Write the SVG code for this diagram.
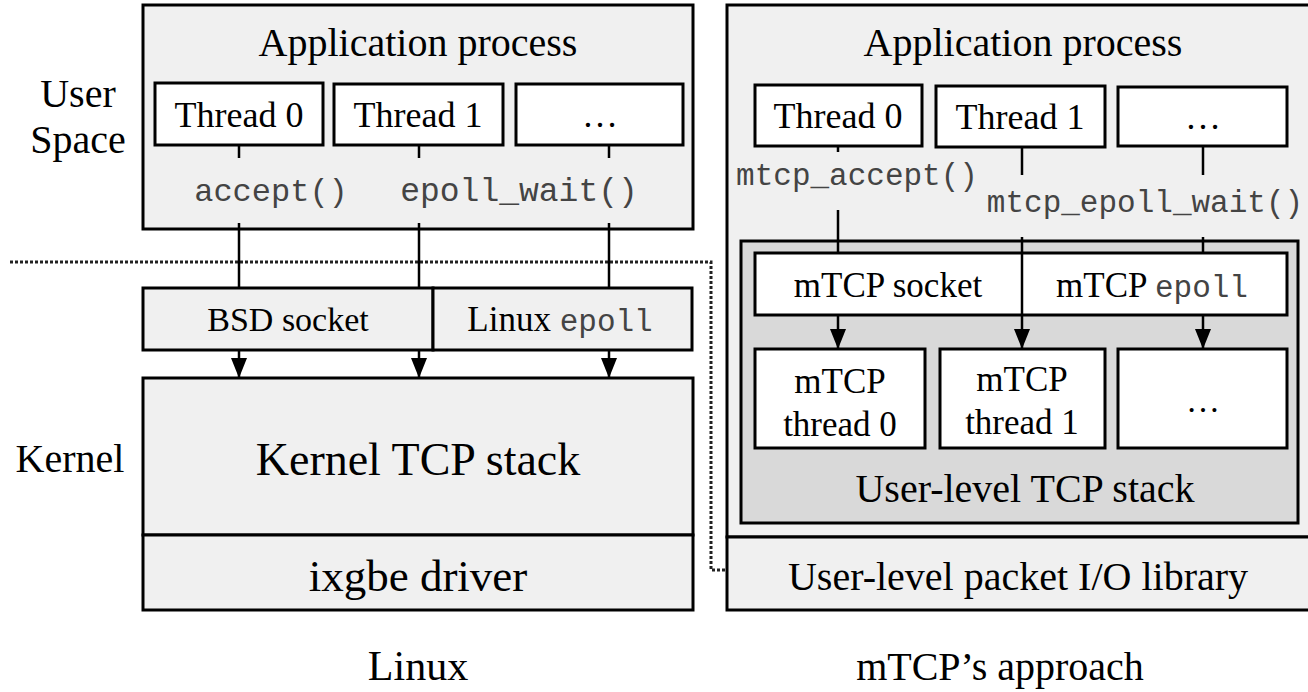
<svg xmlns="http://www.w3.org/2000/svg" width="1308" height="692" viewBox="0 0 1308 692">
<defs>
<marker id="ah" viewBox="0 0 20 16" refX="20" refY="8" markerWidth="20" markerHeight="16" markerUnits="userSpaceOnUse" orient="auto">
<path d="M0,0 L20,8 L0,16 Z" fill="#000"/>
</marker>
</defs>
<style>
.box{fill:#f0f0f0;stroke:#000;stroke-width:3}
.wbox{fill:#fff;stroke:#000;stroke-width:3}
.gbox{fill:#d9d9d9;stroke:#000;stroke-width:3}
.t{font-family:"Liberation Serif","Times New Roman",serif;fill:#000;text-anchor:middle}
.c{font-family:"Liberation Mono","Courier New",monospace;fill:#444;text-anchor:middle}
.ln{stroke:#000;stroke-width:2.5;fill:none}
.arr{stroke:#000;stroke-width:2.5;fill:none;marker-end:url(#ah)}
.dot{stroke:#222;stroke-width:3;fill:none;stroke-dasharray:3 2}
</style>
<rect width="1308" height="692" fill="#fff"/>

<g id="labels">
<text class="t" x="78" y="107" font-size="40">User</text>
<text class="t" x="78" y="153" font-size="40">Space</text>
<text class="t" x="70" y="472" font-size="40">Kernel</text>
<text class="t" x="418" y="680" font-size="42">Linux</text>
<text class="t" x="1000" y="680" font-size="40">mTCP’s approach</text>
</g>

<g id="boundary">
<path class="dot" d="M10,262 H711 V570 H727"/>
</g>

<!-- Linux side -->
<g id="linux-app">
<rect class="box" x="143" y="5" width="550" height="224"/>
<text class="t" x="418" y="56" font-size="40">Application process</text>
</g>
<g id="linux-thread0">
<rect class="wbox" x="155" y="83" width="168" height="62"/>
<text class="t" x="239" y="127" font-size="36">Thread 0</text>
</g>
<g id="linux-thread1">
<rect class="wbox" x="334" y="84" width="169" height="61"/>
<text class="t" x="418" y="127" font-size="36">Thread 1</text>
</g>
<g id="linux-threadn">
<rect class="wbox" x="516" y="84" width="167" height="61"/>
<text class="t" x="600" y="127" font-size="36">…</text>
</g>
<g id="linux-calls">
<text class="c" x="271" y="201" font-size="32">accept()</text>
<text class="c" x="519" y="201" font-size="33">epoll_wait()</text>
</g>
<g id="bsd-socket">
<rect class="box" x="143" y="288" width="290" height="62"/>
<text class="t" x="288" y="331" font-size="34">BSD socket</text>
</g>
<g id="linux-epoll">
<rect class="box" x="433" y="288" width="259" height="62"/>
<text class="t" x="560" y="331" font-size="35">Linux <tspan class="c" font-size="31">epoll</tspan></text>
</g>
<g id="kernel-tcp">
<rect class="box" x="143" y="378" width="550" height="157"/>
<text class="t" x="418" y="475" font-size="46">Kernel TCP stack</text>
</g>
<g id="ixgbe">
<rect class="box" x="143" y="535" width="550" height="75"/>
<text class="t" x="418" y="591" font-size="45">ixgbe driver</text>
</g>

<!-- mTCP side -->
<g id="mtcp-app">
<rect class="box" x="727" y="5" width="600" height="532"/>
<text class="t" x="1023" y="56" font-size="40">Application process</text>
</g>
<g id="mtcp-io">
<rect class="box" x="727" y="537" width="600" height="73"/>
<text class="t" x="1018" y="590" font-size="40">User-level packet I/O library</text>
</g>
<g id="mtcp-thread0">
<rect class="wbox" x="755" y="85" width="167" height="61"/>
<text class="t" x="838" y="128" font-size="36">Thread 0</text>
</g>
<g id="mtcp-thread1">
<rect class="wbox" x="936" y="86" width="169" height="61"/>
<text class="t" x="1020" y="129" font-size="36">Thread 1</text>
</g>
<g id="mtcp-threadn">
<rect class="wbox" x="1118" y="87" width="169" height="59"/>
<text class="t" x="1203" y="129" font-size="36">…</text>
</g>
<g id="mtcp-calls">
<text class="c" x="857" y="185" font-size="31">mtcp_accept()</text>
<text class="c" x="1145" y="212" font-size="31">mtcp_epoll_wait()</text>
</g>
<g id="user-tcp">
<rect class="gbox" x="741" y="241" width="557" height="282"/>
<text class="t" x="1025" y="502" font-size="40">User-level TCP stack</text>
</g>
<g id="mtcp-socket-epoll">
<rect class="wbox" x="755" y="253" width="532" height="62"/>
<text class="t" x="888" y="297" font-size="35">mTCP socket</text>
<text class="t" x="1152" y="297" font-size="35">mTCP <tspan class="c" font-size="31">epoll</tspan></text>
</g>
<g id="mtcp-core0">
<rect class="wbox" x="755" y="349" width="170" height="99"/>
<text class="t" x="840" y="393" font-size="35">mTCP</text>
<text class="t" x="840" y="436" font-size="35">thread 0</text>
</g>
<g id="mtcp-core1">
<rect class="wbox" x="940" y="349" width="165" height="99"/>
<text class="t" x="1022" y="391" font-size="35">mTCP</text>
<text class="t" x="1022" y="434" font-size="35">thread 1</text>
</g>
<g id="mtcp-coren">
<rect class="wbox" x="1118" y="349" width="169" height="99"/>
<text class="t" x="1203" y="412" font-size="34">…</text>
</g>

<g id="connectors">
<line class="ln" x1="239" y1="145" x2="239" y2="158"/>
<line class="ln" x1="419" y1="145" x2="419" y2="158"/>
<line class="ln" x1="609" y1="145" x2="609" y2="158"/>
<line class="ln" x1="239" y1="223" x2="239" y2="288"/>
<line class="ln" x1="419" y1="223" x2="419" y2="288"/>
<line class="ln" x1="609" y1="223" x2="609" y2="288"/>
<line class="arr" x1="239" y1="350" x2="239" y2="378"/>
<line class="arr" x1="419" y1="350" x2="419" y2="378"/>
<line class="arr" x1="609" y1="350" x2="609" y2="378"/>
<line class="ln" x1="838" y1="146" x2="838" y2="152"/>
<line class="ln" x1="1022" y1="147" x2="1022" y2="175"/>
<line class="ln" x1="1203" y1="146" x2="1203" y2="175"/>
<line class="ln" x1="838" y1="210" x2="838" y2="253"/>
<line class="ln" x1="1203" y1="237" x2="1203" y2="253"/>
<line class="arr" x1="1022" y1="237" x2="1022" y2="349"/>
<line class="arr" x1="838" y1="315" x2="838" y2="349"/>
<line class="arr" x1="1203" y1="315" x2="1203" y2="349"/>
</g>
</svg>
